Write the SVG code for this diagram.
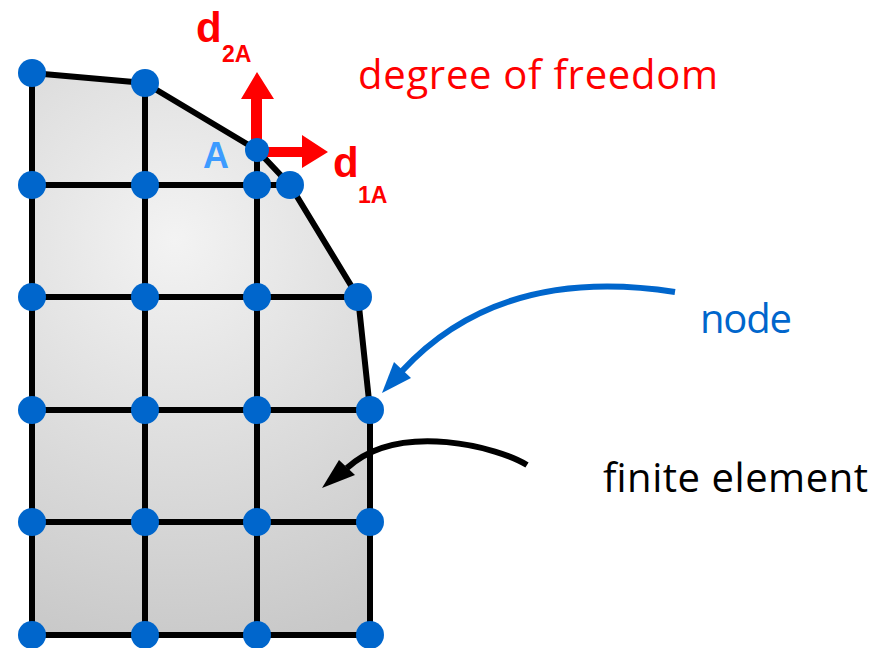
<svg xmlns="http://www.w3.org/2000/svg" width="876" height="648" viewBox="0 0 876 648">
<style>
.edge{stroke:#000;stroke-width:6;fill:none;stroke-linejoin:round}
.shape{fill:url(#g);stroke:#000;stroke-width:6;stroke-linejoin:round}
.nd{fill:#0066cc}
.lbl{font-family:"Liberation Sans",Arial,sans-serif}
.txt{font-family:"Open Sans","Liberation Sans",sans-serif;font-size:40px}
.red{fill:#ff0000}
</style>
<defs>
<radialGradient id="g" cx="175" cy="240" r="420" gradientUnits="userSpaceOnUse">
<stop offset="0" stop-color="#f3f3f3"/>
<stop offset="1" stop-color="#c8c8c8"/>
</radialGradient>
</defs>
<rect width="876" height="648" fill="#fff"/>
<g id="mesh">
<polygon class="shape" points="32,73 145,83 257,150 290,185 358,297 370,410 370,635 32,635"/>
<path class="edge" d="M145,83V635M257,150V635M32,185H290M32,297H358M32,410H370M32,522H370"/>
</g>
<g id="dof">
<polygon class="red" points="251,152 251,99 241,99 257,72 274,99 262,99 262,152"/>
<polygon class="red" points="257,147 302,147 302,135 328,152 302,168 302,157 257,157"/>
<text class="lbl red" x="196" y="42" font-size="42" font-weight="bold">d</text>
<text class="lbl red" x="222" y="62" font-size="23" font-weight="bold">2A</text>
<text class="lbl red" x="333" y="177" font-size="42" font-weight="bold">d</text>
<text class="lbl red" x="358" y="203" font-size="23" font-weight="bold">1A</text>
<text class="lbl" x="203" y="168" font-size="36" font-weight="bold" fill="#3d9bff">A</text>
<text class="txt red" x="358" y="89" textLength="360">degree of freedom</text>
</g>
<g id="nodes">
<circle class="nd" cx="32" cy="73" r="14"/>
<circle class="nd" cx="145" cy="83" r="14"/>
<circle class="nd" cx="257" cy="150" r="12"/>
<circle class="nd" cx="32" cy="185" r="14"/>
<circle class="nd" cx="145" cy="185" r="14"/>
<circle class="nd" cx="257" cy="185" r="14"/>
<circle class="nd" cx="290" cy="185" r="14"/>
<circle class="nd" cx="32" cy="297" r="14"/>
<circle class="nd" cx="145" cy="297" r="14"/>
<circle class="nd" cx="257" cy="297" r="14"/>
<circle class="nd" cx="358" cy="297" r="14"/>
<circle class="nd" cx="32" cy="410" r="14"/>
<circle class="nd" cx="145" cy="410" r="14"/>
<circle class="nd" cx="257" cy="410" r="14"/>
<circle class="nd" cx="370" cy="410" r="14"/>
<circle class="nd" cx="32" cy="522" r="14"/>
<circle class="nd" cx="145" cy="522" r="14"/>
<circle class="nd" cx="257" cy="522" r="14"/>
<circle class="nd" cx="370" cy="522" r="14"/>
<circle class="nd" cx="32" cy="635" r="14"/>
<circle class="nd" cx="145" cy="635" r="14"/>
<circle class="nd" cx="257" cy="635" r="14"/>
<circle class="nd" cx="370" cy="635" r="14"/>
</g>
<g id="connectors">
<path d="M675,292 Q500,265 402,371" fill="none" stroke="#0066cc" stroke-width="6"/>
<polygon points="382,393 394,362 411,378" fill="#0066cc"/>
<path d="M527,465 C500,448 400,420 347,468" fill="none" stroke="#000" stroke-width="6"/>
<polygon points="322,488 339,460 355,475" fill="#000"/>
</g>
<g id="labels">
<text class="txt" x="700" y="333" fill="#0066cc" textLength="92">node</text>
<text class="txt" x="603" y="492" fill="#000" textLength="265">finite element</text>
</g>
</svg>
